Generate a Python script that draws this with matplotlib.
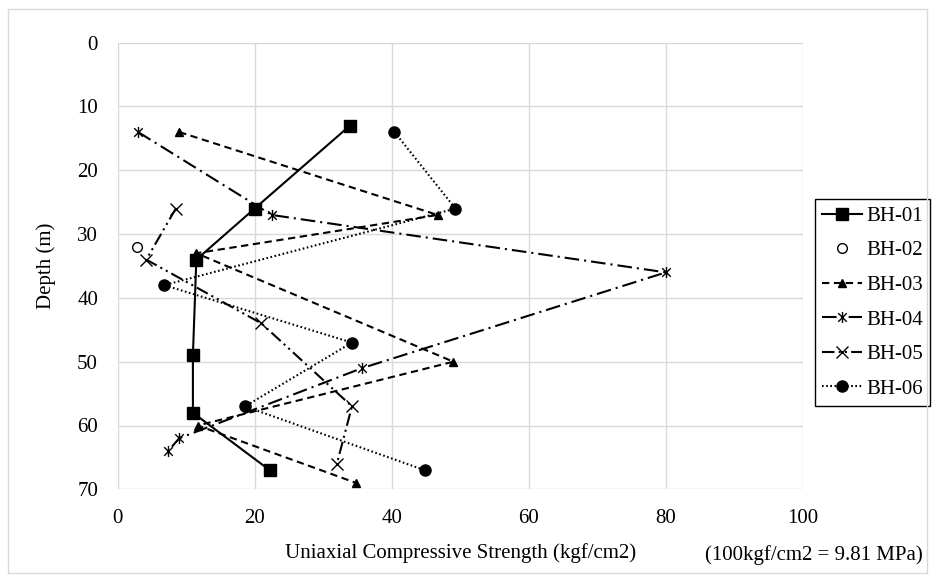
import matplotlib
matplotlib.use("Agg")
import matplotlib.pyplot as plt
from matplotlib.path import Path
from matplotlib.patches import Rectangle

plt.rcParams['font.family'] = ['Liberation Serif', 'DejaVu Serif']
plt.rcParams['font.size'] = 15

# strength (kgf/cm2) vs depth (m) for each borehole
bh01_x = [33.9, 20.0, 11.5, 11.0, 11.0, 22.2]
bh01_y = [13, 26, 34, 49, 58, 67]
bh02_x = [2.8]
bh02_y = [32]
bh03_x = [9.0, 46.7, 11.5, 49.0, 11.7, 34.8]
bh03_y = [14, 27, 33, 50, 60, 69]
bh04_x = [3.0, 22.5, 80.0, 35.7, 9.0, 7.4]
bh04_y = [14, 27, 36, 51, 62, 64]
bh05_x = [8.5, 4.2, 21.0, 34.2, 32.0]
bh05_y = [26, 34, 44, 57, 66]
bh06_x = [40.4, 49.3, 6.8, 34.2, 18.6, 44.8]
bh06_y = [14, 26, 38, 47, 57, 67]

x_ticks = [0, 20, 40, 60, 80, 100]
y_ticks = [0, 10, 20, 30, 40, 50, 60, 70]

# asterisk marker: X plus a vertical bar
star = Path([(-1, -1), (1, 1), (-1, 1), (1, -1), (0, -1.3), (0, 1.3)],
            [Path.MOVETO, Path.LINETO, Path.MOVETO, Path.LINETO, Path.MOVETO, Path.LINETO])

fig = plt.figure(figsize=(9.35, 5.81), dpi=100)
fig.patches.append(Rectangle((8 / 935, 1 - 573 / 581), 919 / 935, 564 / 581,
                             transform=fig.transFigure, fill=False,
                             edgecolor='#d9d9d9', linewidth=1))
ax = fig.add_axes([117.5 / 935, 1 - 489.3 / 581, 685.5 / 935, 446.6 / 581])

lw = 1.5
ax.plot(bh01_x, bh01_y, color='black', lw=lw, marker='s', ms=8, label='BH-01')
ax.plot(bh02_x, bh02_y, color='black', lw=0, marker='o', ms=7, mfc='white',
        mew=1, label='BH-02')
ax.plot(bh03_x, bh03_y, color='black', lw=lw, ls=(0, (3.5, 2.2)), marker='^', ms=6,
        label='BH-03')
ax.plot(bh04_x, bh04_y, color='black', lw=lw, ls=(0, (7, 2.4, 1, 2.4)), marker=star,
        ms=8, mew=1, mfc='none', label='BH-04')
ax.plot(bh05_x, bh05_y, color='black', lw=lw, ls=(0, (6, 2, 1, 2, 1, 2)), marker='x',
        ms=8, mew=1, label='BH-05')
ax.plot(bh06_x, bh06_y, color='black', lw=lw, ls=(0, (0.8, 1.2)), marker='o', ms=8,
        label='BH-06')

ax.set_xlim(0, 100)
ax.set_ylim(70, 0)
ax.set_xticks(x_ticks)
ax.set_yticks(y_ticks)
ax.grid(True, color='#d9d9d9', linewidth=1)
ax.set_axisbelow(True)
for s in ax.spines.values():
    s.set_visible(False)
ax.tick_params(length=0, pad=14)

ax.set_xlabel('Uniaxial Compressive Strength (kgf/cm2)', labelpad=11)
ax.set_ylabel('Depth (m)', labelpad=15)
fig.text(814 / 935, 1 - 555 / 581, '(100kgf/cm2 = 9.81 MPa)', ha='center', va='center')

leg = ax.legend(loc='upper left', bbox_to_anchor=(815 / 935, 1 - 199 / 581),
                bbox_transform=fig.transFigure, borderaxespad=0, fancybox=False,
                edgecolor='black', framealpha=1, handlelength=1.9,
                handletextpad=0.2, labelspacing=0.72, borderpad=0.35)
leg.get_frame().set_linewidth(1)

fig.savefig('out.png', dpi=100)
